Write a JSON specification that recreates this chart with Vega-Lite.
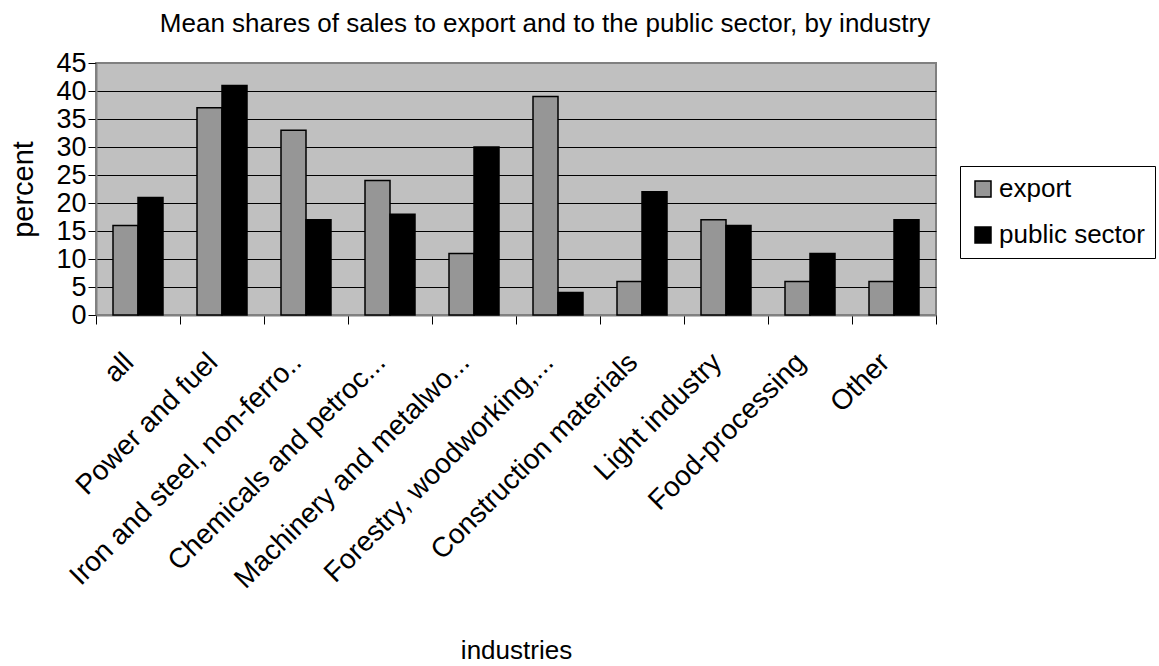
{
  "$schema": "https://vega.github.io/schema/vega-lite/v6.json",
  "width": 840,
  "height": 252,
  "autosize": "none",
  "padding": {"left": 96, "top": 63, "right": 223, "bottom": 351},
  "background": "white",
  "title": {
    "text": "Mean shares of sales to export and to the public sector, by industry",
    "fontSize": 26,
    "font": "Liberation Sans",
    "fontWeight": "normal",
    "color": "black",
    "anchor": "middle",
    "dx": 29,
    "dy": 30,
    "offset": 21,
    "baseline": "alphabetic"
  },
  "config": {
    "font": "Liberation Sans",
    "view": {"fill": "#c0c0c0", "stroke": "#808080", "strokeWidth": 2}
  },
  "data": {
    "values": [
      {"industry": "all", "series": "export", "value": 16},
      {"industry": "all", "series": "public sector", "value": 21},
      {"industry": "Power and fuel", "series": "export", "value": 37},
      {"industry": "Power and fuel", "series": "public sector", "value": 41},
      {"industry": "Iron and steel, non-ferro..", "series": "export", "value": 33},
      {"industry": "Iron and steel, non-ferro..", "series": "public sector", "value": 17},
      {"industry": "Chemicals and petroc...", "series": "export", "value": 24},
      {"industry": "Chemicals and petroc...", "series": "public sector", "value": 18},
      {"industry": "Machinery and metalwo...", "series": "export", "value": 11},
      {"industry": "Machinery and metalwo...", "series": "public sector", "value": 30},
      {"industry": "Forestry, woodworking,...", "series": "export", "value": 39},
      {"industry": "Forestry, woodworking,...", "series": "public sector", "value": 4},
      {"industry": "Construction materials", "series": "export", "value": 6},
      {"industry": "Construction materials", "series": "public sector", "value": 22},
      {"industry": "Light industry", "series": "export", "value": 17},
      {"industry": "Light industry", "series": "public sector", "value": 16},
      {"industry": "Food-processing", "series": "export", "value": 6},
      {"industry": "Food-processing", "series": "public sector", "value": 11},
      {"industry": "Other", "series": "export", "value": 6},
      {"industry": "Other", "series": "public sector", "value": 17}
    ]
  },
  "mark": {"type": "bar", "stroke": "black", "strokeWidth": 1.5},
  "encoding": {
    "x": {
      "field": "industry",
      "type": "nominal",
      "sort": null,
      "scale": {"paddingInner": 0, "paddingOuter": 0},
      "axis": {
        "title": "industries",
        "labelAngle": -45,
        "labelAlign": "right",
        "labelBaseline": "top",
        "labelFontSize": 28,
        "labelPadding": 24,
        "labelOffset": -19,
        "labelLimit": 500,
        "labelOverlap": false,
        "labelColor": "black",
        "tickBand": "extent",
        "tickSize": 9,
        "tickColor": "black",
        "domainColor": "#808080",
        "domainWidth": 2,
        "titleFontSize": 26,
        "titleFontWeight": "normal",
        "titleColor": "black",
        "titleY": 343,
        "titleBaseline": "alphabetic"
      }
    },
    "xOffset": {
      "field": "series",
      "type": "nominal",
      "sort": ["export", "public sector"],
      "scale": {"paddingOuter": 0.68, "paddingInner": 0}
    },
    "y": {
      "field": "value",
      "type": "quantitative",
      "scale": {"domain": [0, 45]},
      "axis": {
        "title": "percent",
        "values": [0, 5, 10, 15, 20, 25, 30, 35, 40, 45],
        "grid": true,
        "gridColor": {"condition": {"test": "datum.value === 45", "value": "#808080"}, "value": "black"},
        "gridWidth": 1,
        "gridOpacity": 1,
        "tickSize": 8,
        "tickColor": "black",
        "labelFontSize": 27,
        "labelPadding": 2,
        "labelColor": "black",
        "domainColor": "#808080",
        "domainWidth": 2,
        "titleFontSize": 29,
        "titleFontWeight": "normal",
        "titleColor": "black",
        "titlePadding": 17
      }
    },
    "color": {
      "field": "series",
      "type": "nominal",
      "scale": {"domain": ["export", "public sector"], "range": ["#969696", "#000000"]},
      "legend": {
        "title": null,
        "orient": "none",
        "legendX": 864,
        "legendY": 103,
        "fillColor": "white",
        "strokeColor": "black",
        "padding": 10,
        "labelFontSize": 26,
        "labelColor": "black",
        "symbolType": "square",
        "symbolSize": 256,
        "symbolStrokeColor": "black",
        "symbolStrokeWidth": 1.5,
        "symbolOpacity": 1,
        "rowPadding": 20,
        "labelOffset": 3
      }
    }
  }
}
